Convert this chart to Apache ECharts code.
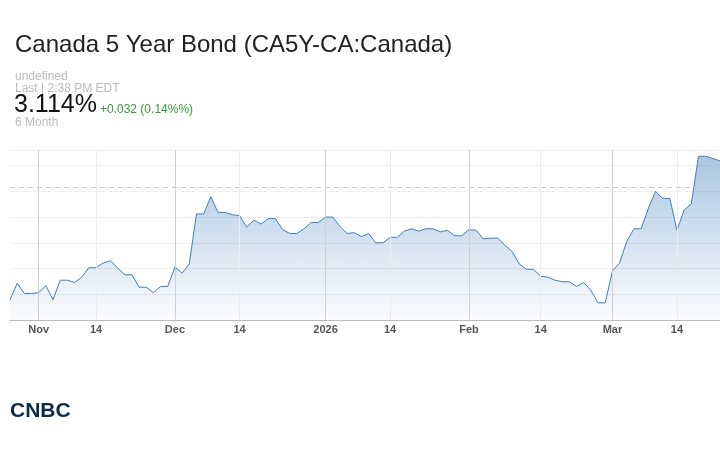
<!DOCTYPE html>
<html><head><meta charset="utf-8">
<script src="https://cdn.jsdelivr.net/npm/echarts@6/dist/echarts.min.js"></script>
<style>html,body{margin:0;padding:0;background:#fff}#c{width:720px;height:450px}</style>
</head><body><div id="c"></div>
<script>
const dates = ['2025-10-26','2025-10-27','2025-10-29','2025-10-31','2025-11-01','2025-11-03','2025-11-04','2025-11-06','2025-11-08','2025-11-10','2025-11-11','2025-11-12','2025-11-14','2025-11-16','2025-11-17','2025-11-19','2025-11-20','2025-11-22','2025-11-24','2025-11-25','2025-11-27','2025-11-28','2025-11-30',
'2025-12-01','2025-12-02','2025-12-04','2025-12-05','2025-12-07','2025-12-08','2025-12-09','2025-12-11','2025-12-12','2025-12-13','2025-12-15','2025-12-16','2025-12-17','2025-12-19','2025-12-20','2025-12-21','2025-12-23','2025-12-27','2025-12-28','2025-12-30','2025-12-31',
'2026-01-01','2026-01-03','2026-01-04','2026-01-06','2026-01-07','2026-01-09','2026-01-11','2026-01-12','2026-01-14','2026-01-16','2026-01-17','2026-01-18','2026-01-20','2026-01-21','2026-01-23','2026-01-24','2026-01-25','2026-01-27','2026-01-30','2026-01-31',
'2026-02-01','2026-02-03','2026-02-04','2026-02-05','2026-02-07','2026-02-08','2026-02-10','2026-02-11','2026-02-12','2026-02-13','2026-02-15','2026-02-16','2026-02-18','2026-02-19','2026-02-21','2026-02-22','2026-02-24','2026-02-25','2026-02-27','2026-02-28',
'2026-03-02','2026-03-03','2026-03-04','2026-03-06','2026-03-08','2026-03-09','2026-03-11','2026-03-12','2026-03-13','2026-03-15','2026-03-16','2026-03-17','2026-03-19','2026-03-20','2026-03-21','2026-03-22'];
const yields = [2.936,2.957,2.944,2.944,2.945,2.954,2.936,2.961,2.961,2.958,2.965,2.977,2.977,2.983,2.986,2.977,2.968,2.968,2.952,2.952,2.945,2.953,2.953,
2.978,2.970,2.982,3.046,3.046,3.068,3.048,3.048,3.045,3.044,3.029,3.038,3.033,3.040,3.040,3.026,3.021,3.021,3.027,3.035,3.035,
3.042,3.042,3.030,3.021,3.022,3.017,3.021,3.009,3.009,3.016,3.016,3.024,3.027,3.024,3.027,3.027,3.023,3.025,3.018,3.018,
3.026,3.025,3.014,3.015,3.015,3.006,2.998,2.982,2.975,2.975,2.966,2.965,2.961,2.959,2.959,2.953,2.958,2.948,2.932,2.932,
2.973,2.983,3.011,3.027,3.027,3.053,3.075,3.066,3.066,3.025,3.051,3.059,3.120,3.120,3.117,3.114];
const prevClose = 3.082;
// trading-day category at which each month/mid-month tick falls
const tickDates = ['2025-11-01','2025-11-14','2025-12-01','2025-12-13','2026-01-01','2026-01-16','2026-02-01','2026-02-15','2026-03-02','2026-03-15'];
const tickLabels = ['Nov','14','Dec','14','2026','14','Feb','14','Mar','14'];
const monthStart = [true,false,true,false,true,false,true,false,true,false];

const chart = echarts.init(document.getElementById('c'));
const F = 'Liberation Sans, Arial, sans-serif';
chart.setOption({
  animation:false,
  grid:{left:10,right:0,top:150,bottom:130},
  xAxis:{type:'category',data:dates,boundaryGap:false,
    axisLine:{lineStyle:{color:'#bbb'}},axisTick:{show:false},axisLabel:{show:false},splitLine:{show:false}},
  yAxis:{type:'value',min:2.910,max:3.128,interval:0.033,axisLabel:{show:false},axisLine:{show:false},axisTick:{show:false},
    splitLine:{lineStyle:{color:'#efefef'}}},
  series:[{type:'line',data:yields,symbol:'none',
    lineStyle:{color:'#3f7fb8',width:1},
    areaStyle:{color:new echarts.graphic.LinearGradient(0,0,0,1,[{offset:0,color:'rgba(70,130,190,0.65)'},{offset:1,color:'rgba(70,130,190,0.03)'}])},
    markLine:{symbol:'none',silent:true,data:[
      {yAxis:prevClose,lineStyle:{color:'#c8c8c8',type:[5,4],width:1},label:{show:false}},
      ...tickDates.map((d,i)=>({xAxis:d,lineStyle:{color:monthStart[i]?'#d0d0d0':'#ececec',type:'solid',width:1},
        label:{show:true,position:'start',formatter:tickLabels[i],color:'#555',fontWeight:'bold',fontSize:11,fontFamily:F,distance:4}}))
    ]}
  }],
  graphic:[
    {type:'text',left:15,top:33,style:{text:'Canada 5 Year Bond (CA5Y-CA:Canada)',font:'24px '+F,fill:'#222'}},
    {type:'text',left:15,top:71,style:{text:'undefined',font:'12px '+F,fill:'#bbb'}},
    {type:'text',left:15,top:83,style:{text:'Last | 2:38 PM EDT',font:'12px '+F,fill:'#bbb'}},
    {type:'text',left:14,top:93,style:{text:'3.114%',font:'25px '+F,fill:'#111'}},
    {type:'text',left:100,top:104,style:{text:'+0.032 (0.14%%)',font:'12px '+F,fill:'#3a9a3a'}},
    {type:'text',left:15,top:117,style:{text:'6 Month',font:'12px '+F,fill:'#bbb'}},
    {type:'text',left:292,top:238,style:{text:'CNBC',font:'bold 46px '+F,fill:'rgba(255,255,255,0.4)'}},
    {type:'text',left:10,top:401,style:{text:'CNBC',font:'bold 21px '+F,fill:'#0b2a4a'}}
  ]
});
</script></body></html>
